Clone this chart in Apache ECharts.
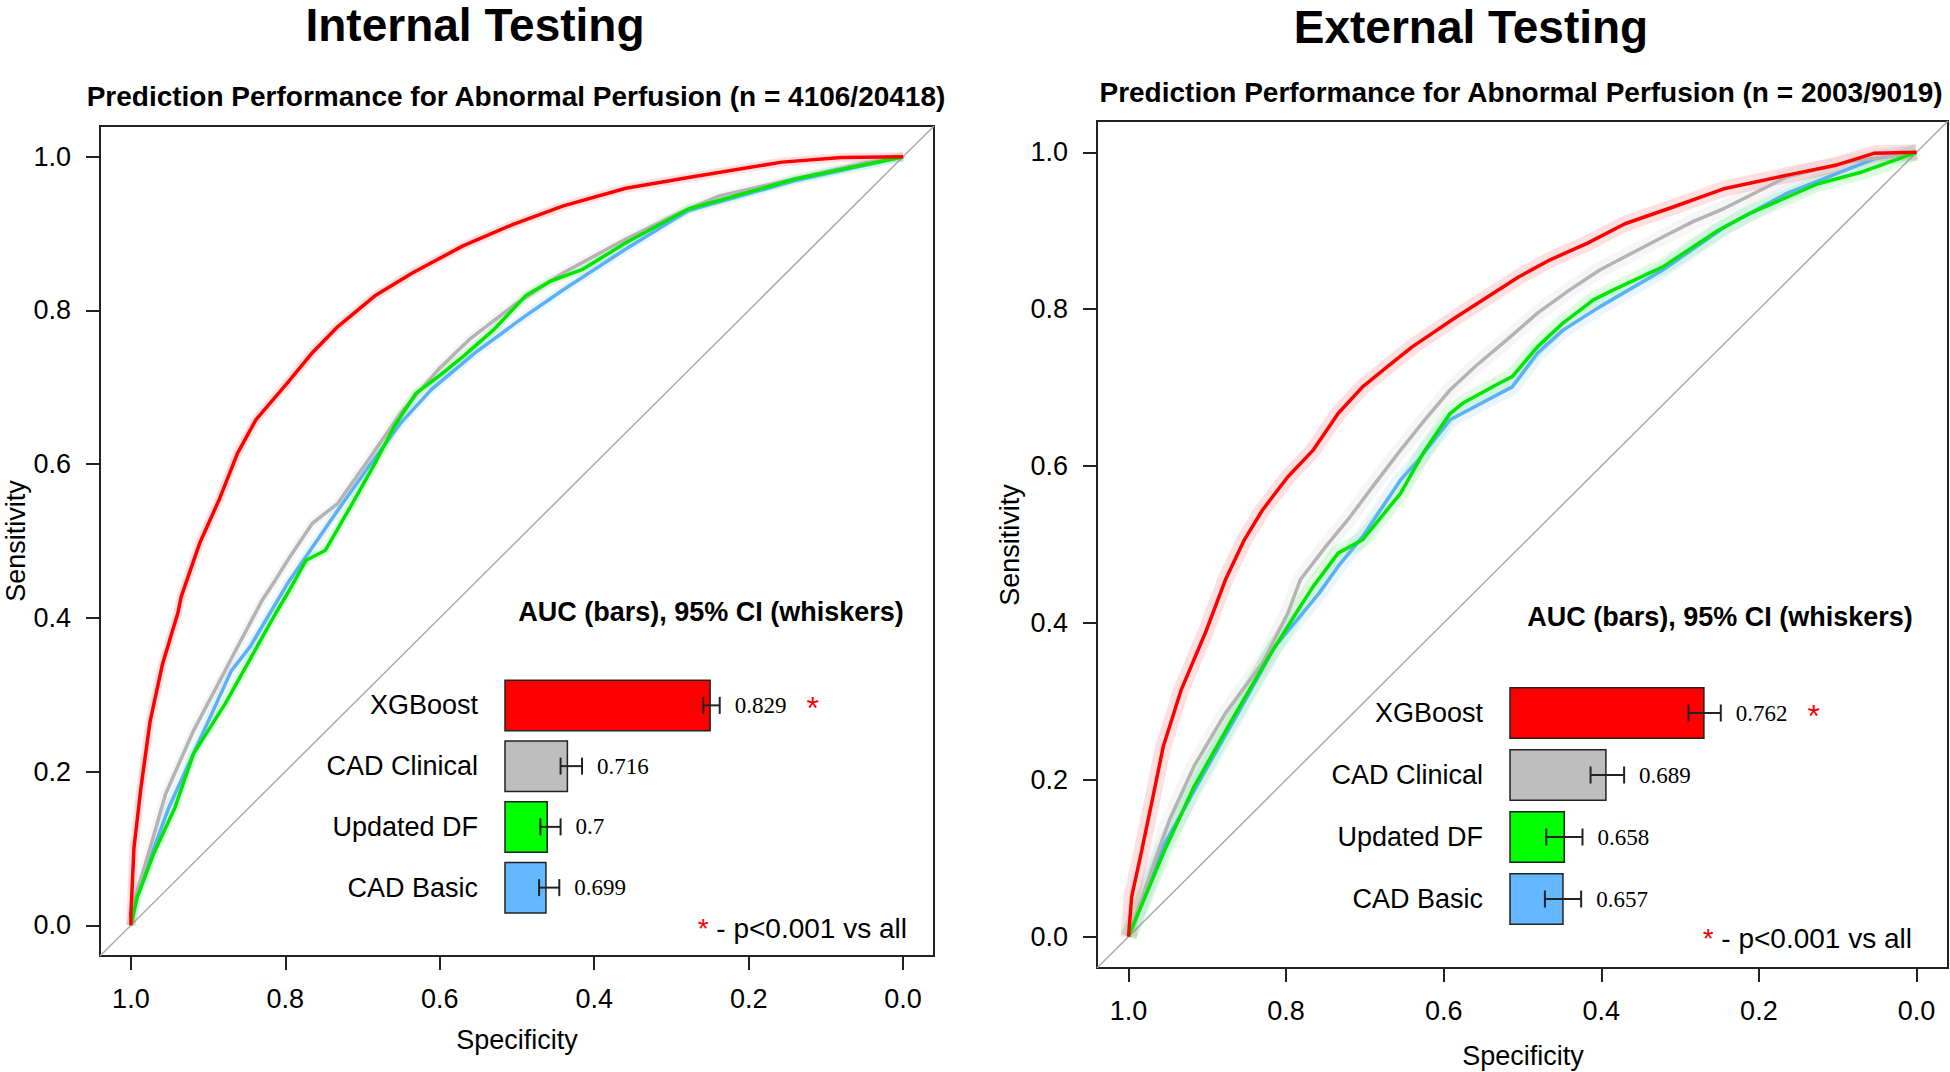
<!DOCTYPE html>
<html>
<head>
<meta charset="utf-8">
<title>ROC - Internal / External Testing</title>
<script src="https://cdn.jsdelivr.net/npm/echarts@6/dist/echarts.min.js"></script>
<style type="text/css">
html,body{margin:0;padding:0;background:#fff;}
#chart_main{width:1950px;height:1072px;}
</style>
</head>
<body>
<div id="chart_main"></div>
<script type="text/javascript">
// models, shared by both panels (top to bottom in the AUC inset)
var models = ['XGBoost', 'CAD Clinical', 'Updated DF', 'CAD Basic'];
var barColors = ['#FF0000', '#BEBEBE', '#00FF00', '#63B8FF'];
var lineColors = ['#FF0000', '#B4B4B4', '#00E600', '#5CB0F5'];
var starFlag = [true, false, false, false];
var specTicks = [1.0, 0.8, 0.6, 0.4, 0.2, 0.0];
var sensTicks = [0.0, 0.2, 0.4, 0.6, 0.8, 1.0];
var chanceLine = [[1.04, -0.04], [-0.04, 1.04]];

// internal testing: AUC + 95% CI
var intAuc = [0.829, 0.716, 0.7, 0.699];
var intCiLo = [0.823, 0.710, 0.694, 0.693];
var intCiHi = [0.836, 0.727, 0.710, 0.709];

// external testing: AUC + 95% CI
var extAuc = [0.762, 0.689, 0.658, 0.657];
var extCiLo = [0.750, 0.677, 0.644, 0.643];
var extCiHi = [0.774, 0.702, 0.671, 0.670];

// ROC curves, [specificity, sensitivity]
var intXgb = [[1,0],[1,0.014],[0.996,0.101],[0.987,0.179],[0.975,0.266],[0.959,0.340],[0.939,0.407],[0.935,0.427],[0.911,0.497],[0.886,0.553],[0.862,0.614],[0.838,0.658],[0.797,0.706],[0.765,0.745],[0.732,0.779],[0.684,0.819],[0.635,0.849],[0.570,0.884],[0.505,0.912],[0.440,0.936],[0.359,0.959],[0.278,0.973],[0.157,0.993],[0.08,0.999],[0,1]];
var intClin = [[1,0],[0.996,0.031],[0.975,0.101],[0.955,0.171],[0.919,0.253],[0.862,0.362],[0.830,0.423],[0.813,0.449],[0.797,0.475],[0.765,0.523],[0.732,0.549],[0.692,0.606],[0.651,0.666],[0.602,0.723],[0.562,0.762],[0.505,0.806],[0.440,0.849],[0.359,0.893],[0.294,0.925],[0.238,0.949],[0.116,0.977],[0.05,0.992],[0,1]];
var intDf = [[1,0],[0.992,0.036],[0.971,0.092],[0.943,0.153],[0.919,0.223],[0.878,0.288],[0.813,0.405],[0.797,0.432],[0.773,0.475],[0.748,0.488],[0.708,0.558],[0.684,0.601],[0.659,0.649],[0.631,0.692],[0.602,0.714],[0.570,0.740],[0.530,0.775],[0.489,0.819],[0.457,0.838],[0.416,0.853],[0.359,0.888],[0.278,0.932],[0.140,0.971],[0,1]];
var intBas = [[1,0],[0.992,0.040],[0.951,0.153],[0.870,0.331],[0.846,0.362],[0.797,0.445],[0.765,0.492],[0.732,0.540],[0.692,0.597],[0.651,0.653],[0.611,0.697],[0.554,0.745],[0.489,0.793],[0.440,0.827],[0.359,0.880],[0.278,0.930],[0.140,0.969],[0,1]];

var extXgb = [[1,0],[0.996,0.051],[0.984,0.106],[0.968,0.183],[0.956,0.242],[0.933,0.315],[0.901,0.391],[0.877,0.455],[0.853,0.506],[0.830,0.544],[0.798,0.586],[0.766,0.620],[0.734,0.667],[0.703,0.701],[0.671,0.727],[0.640,0.752],[0.584,0.790],[0.544,0.816],[0.505,0.841],[0.465,0.863],[0.418,0.884],[0.370,0.909],[0.307,0.931],[0.243,0.954],[0.164,0.971],[0.101,0.984],[0.053,0.999],[0,1]];
var extClin = [[1,0],[0.972,0.081],[0.948,0.149],[0.917,0.217],[0.877,0.285],[0.830,0.349],[0.798,0.412],[0.782,0.455],[0.750,0.497],[0.719,0.535],[0.687,0.578],[0.655,0.620],[0.624,0.659],[0.592,0.697],[0.560,0.727],[0.520,0.761],[0.481,0.795],[0.441,0.824],[0.402,0.850],[0.362,0.871],[0.322,0.892],[0.283,0.912],[0.243,0.929],[0.164,0.969],[0.085,0.988],[0,1]];
var extDf = [[1,0],[0.956,0.106],[0.917,0.191],[0.869,0.276],[0.822,0.357],[0.782,0.421],[0.766,0.446],[0.734,0.489],[0.703,0.506],[0.655,0.565],[0.624,0.620],[0.592,0.667],[0.576,0.680],[0.529,0.706],[0.513,0.714],[0.481,0.752],[0.449,0.782],[0.410,0.812],[0.386,0.824],[0.322,0.854],[0.251,0.901],[0.212,0.922],[0.125,0.960],[0.069,0.975],[0,1]];
var extBas = [[1,0],[0.956,0.115],[0.909,0.200],[0.861,0.285],[0.814,0.370],[0.758,0.438],[0.734,0.472],[0.703,0.510],[0.655,0.582],[0.632,0.608],[0.592,0.659],[0.560,0.676],[0.513,0.701],[0.481,0.744],[0.449,0.773],[0.402,0.803],[0.322,0.850],[0.243,0.905],[0.164,0.948],[0.053,0.992],[0,1]];

var sans = '"Liberation Sans", Arial, sans-serif';
var serif = '"Liberation Serif", "Times New Roman", serif';
var ink = '#222';

function rocAxis(grid, inverse, ticks) {
	return {
		type: 'value', gridIndex: grid, min: -0.04, max: 1.04, inverse: inverse,
		splitLine: {show: false},
		axisLine: {show: false, onZero: false},
		axisTick: {show: true, length: 14, customValues: ticks, lineStyle: {color: ink, width: 2}},
		axisLabel: {customValues: ticks, margin: 29, color: '#000', fontSize: 27, fontFamily: sans,
			formatter: function(v){ return v.toFixed(1); }}
	};
}

function rocSeries(ax, data, color, bandW, bandOp) {
	return [{
		type: 'line', xAxisIndex: ax, yAxisIndex: ax, data: data, showSymbol: false, silent: true, z: 2,
		lineStyle: {color: color, width: bandW, opacity: bandOp, join: 'round', cap: 'butt'}
	}, {
		type: 'line', xAxisIndex: ax, yAxisIndex: ax, data: data, showSymbol: false, silent: true, z: 4,
		lineStyle: {color: color, width: 3.5, join: 'round'}
	}];
}

function whiskerRender(auc) {
	return function(params, api){
		var i = params.dataIndex;
		var a = api.coord([api.value(1), api.value(0)]);
		var b = api.coord([api.value(2), api.value(0)]);
		var y = a[1];
		var txt = String(auc[i]);
		var w = 0;
		for (var k = 0; k < txt.length; k++) { w += (txt[k] == '.') ? 0.25 : 0.5; }
		w = w * 23;
		var st = {stroke: ink, lineWidth: 2};
		var kids = [
			{type: 'line', shape: {x1: a[0], y1: y, x2: b[0], y2: y}, style: st},
			{type: 'line', shape: {x1: a[0], y1: y - 8.5, x2: a[0], y2: y + 8.5}, style: st},
			{type: 'line', shape: {x1: b[0], y1: y - 8.5, x2: b[0], y2: y + 8.5}, style: st},
			{type: 'text', x: b[0] + 15, y: y, style: {text: txt, font: '23px ' + serif, fill: '#000', align: 'left', verticalAlign: 'middle'}}
		];
		if (starFlag[i]) {
			kids.push({type: 'text', x: b[0] + 15 + w + 20, y: y + 3,
				style: {text: '*', font: '32px ' + sans, fill: '#FF0000', align: 'left', verticalAlign: 'middle'}});
		}
		return {type: 'group', children: kids};
	};
}

function barData(vals) {
	return vals.map(function(v, i){ return {value: v, itemStyle: {color: barColors[i]}}; });
}
function ciData(lo, hi) {
	return lo.map(function(v, i){ return [i, v, hi[i]]; });
}

function txt(x, y, s, font, align, rot) {
	return {type: 'text', x: x, y: y, rotation: rot || 0,
		style: {text: s, font: font, fill: '#000', align: align || 'center', verticalAlign: 'middle'}};
}

var series = [];
series.push({type: 'line', xAxisIndex: 0, yAxisIndex: 0, data: chanceLine, showSymbol: false, silent: true, z: 1, lineStyle: {color: '#ABABAB', width: 1.5}});
series.push({type: 'line', xAxisIndex: 1, yAxisIndex: 1, data: chanceLine, showSymbol: false, silent: true, z: 1, lineStyle: {color: '#ABABAB', width: 1.5}});
var intCurves = [intBas, intClin, intDf, intXgb];
var extCurves = [extBas, extClin, extDf, extXgb];
var order = [3, 1, 2, 0];
order.forEach(function(m, j){
	series = series.concat(rocSeries(0, intCurves[j], lineColors[m], 9, 0.12));
	series = series.concat(rocSeries(1, extCurves[j], lineColors[m], 16, 0.12));
});
series.push({type: 'bar', xAxisIndex: 2, yAxisIndex: 2, barWidth: 52, data: barData(intAuc), z: 5,
	itemStyle: {borderColor: ink, borderWidth: 1.5}});
series.push({type: 'bar', xAxisIndex: 3, yAxisIndex: 3, barWidth: 52, data: barData(extAuc), z: 5,
	itemStyle: {borderColor: ink, borderWidth: 1.5}});
series.push({type: 'custom', xAxisIndex: 2, yAxisIndex: 2, data: ciData(intCiLo, intCiHi), renderItem: whiskerRender(intAuc), z: 6});
series.push({type: 'custom', xAxisIndex: 3, yAxisIndex: 3, data: ciData(extCiLo, extCiHi), renderItem: whiskerRender(extAuc), z: 6});

var insetY = function(grid){
	return {type: 'category', gridIndex: grid, data: models, inverse: true,
		axisLine: {show: false}, axisTick: {show: false},
		axisLabel: {margin: 27, color: '#000', fontSize: 27, fontFamily: sans}};
};

var option = {
	animation: false,
	backgroundColor: '#fff',
	grid: [
		{left: 100, top: 126, width: 834, height: 830, show: true, borderColor: ink, borderWidth: 2},
		{left: 1097, top: 121, width: 851, height: 847, show: true, borderColor: ink, borderWidth: 2},
		{left: 505, top: 675, width: 400, height: 243},
		{left: 1510, top: 682, width: 400, height: 248}
	],
	xAxis: [
		rocAxis(0, true, specTicks),
		rocAxis(1, true, specTicks),
		{type: 'value', gridIndex: 2, min: 0.666, max: 0.666 + 400 / 1263, show: false},
		{type: 'value', gridIndex: 3, min: 0.617, max: 0.617 + 400 / 1342.5, show: false}
	],
	yAxis: [
		rocAxis(0, false, sensTicks),
		rocAxis(1, false, sensTicks),
		insetY(2),
		insetY(3)
	],
	series: series,
	graphic: [
		txt(475, 25, 'Internal Testing', 'bold 46px ' + sans),
		txt(1471, 27, 'External Testing', 'bold 46px ' + sans),
		txt(516, 96, 'Prediction Performance for Abnormal Perfusion (n = 4106/20418)', 'bold 28px ' + sans),
		txt(1521, 92, 'Prediction Performance for Abnormal Perfusion (n = 2003/9019)', 'bold 28px ' + sans),
		txt(517, 1040, 'Specificity', '27px ' + sans),
		txt(1523, 1056, 'Specificity', '27px ' + sans),
		txt(16, 541, 'Sensitivity', '27px ' + sans, 'center', Math.PI / 2),
		txt(1010, 545, 'Sensitivity', '27px ' + sans, 'center', Math.PI / 2),
		txt(711, 612, 'AUC (bars), 95% CI (whiskers)', 'bold 27px ' + sans),
		txt(1720, 617, 'AUC (bars), 95% CI (whiskers)', 'bold 27px ' + sans),
		{type: 'text', x: 907, y: 928, style: {text: '{r|*}{k| - p<0.001 vs all}', align: 'right', verticalAlign: 'middle',
			rich: {r: {fill: '#FF0000', font: '28px ' + sans}, k: {fill: '#000', font: '28px ' + sans}}}},
		{type: 'text', x: 1912, y: 938, style: {text: '{r|*}{k| - p<0.001 vs all}', align: 'right', verticalAlign: 'middle',
			rich: {r: {fill: '#FF0000', font: '28px ' + sans}, k: {fill: '#000', font: '28px ' + sans}}}}
	]
};

var myChart = echarts.init(document.getElementById('chart_main'), null, {renderer: 'svg'});
myChart.setOption(option);
</script>
</body>
</html>
